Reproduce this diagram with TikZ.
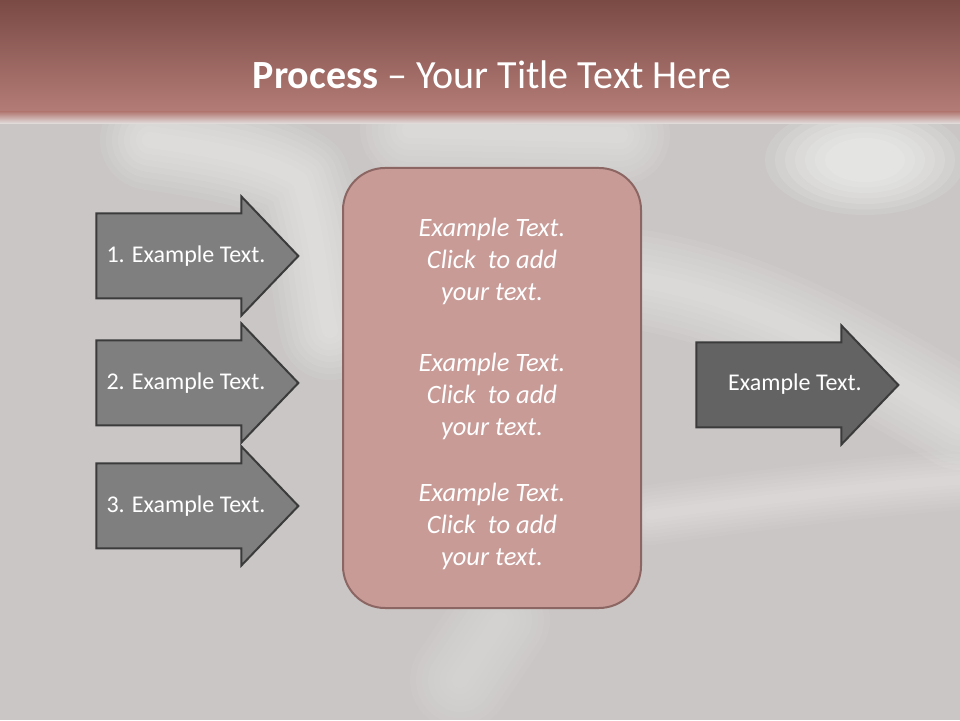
\documentclass[tikz,border=0pt]{standalone}
\usepackage{fontspec}
\setmainfont{Carlito}
\usepackage{tikz}
\usetikzlibrary{shapes.arrows}
\definecolor{pgBack}{HTML}{C9C6C5}
\definecolor{pgBandTop}{HTML}{7A4A45}
\definecolor{pgBandLow}{HTML}{B47C76}
\definecolor{pgRose}{HTML}{C89B97}
\definecolor{pgRoseDark}{HTML}{8B6662}
\definecolor{pgGray}{HTML}{7F7F7F}
\definecolor{pgGrayDark}{HTML}{636363}
\definecolor{pgEdge}{HTML}{3B3B3B}

\begin{document}
\begin{tikzpicture}[
  x=1pt,y=1pt,
  every node/.style={text=white},
  inarrow/.style={single arrow,draw=pgEdge,line width=2pt,fill=pgGray,
    minimum height=202pt,inner xsep=0pt,inner ysep=41.5pt,
    single arrow head extend=17pt,single arrow tip angle=92.5},
  outarrow/.style={inarrow,fill=pgGrayDark},
  arrowtext/.style={font=\fontsize{24}{29}\selectfont},
  boxtext/.style={font=\fontsize{26.5}{32}\selectfont\itshape,align=center},
  smoke/.style={draw=white,line cap=round,line join=round}
]
  \useasboundingbox (0,0) rectangle (960,720);
  \fill[pgBack] (0,0) rectangle (960,720);

  % soft smoke in the background
  \foreach \w in {100,88,76,64,52,40,28,16}{
    \draw[smoke,line width=\w pt,opacity=.07] (150,580) .. controls (220,570) and (270,560) .. (300,540)
      .. controls (320,480) and (320,430) .. (330,390);
    \draw[smoke,line width=\w pt,opacity=.06] (410,590) -- (620,585);
    \draw[smoke,line width=\w pt,opacity=.06] (641,440) .. controls (760,420) and (860,360) .. (960,300);
    \draw[smoke,line width=.6*\w pt,opacity=.05] (650,205) .. controls (760,220) and (880,235) .. (960,240);
    \draw[smoke,line width=\w pt,opacity=.04] (460,40) -- (500,100);
  }
  \foreach \s in {1,.9,.8,.7,.6,.5,.4}{
    \fill[white,opacity=.11] (865,560) ellipse ({100*\s} and {55*\s});
  }

  % title band
  \shade[top color=pgBandTop,bottom color=pgBandLow] (0,608) rectangle (960,720);
  \shade[top color=pgBandLow,bottom color=pgBack!50!white] (0,596) rectangle (960,608);
  \node[font=\fontsize{40}{48}\selectfont] (title) at (492,645)
    {\textbf{Process} -- Your Title Text Here};

  % centre box
  \draw[fill=pgRose,draw=pgRoseDark,line width=2pt,rounded corners=42pt]
    (343,112) rectangle (641,552);
  \node[boxtext] (item1) at (492,459) {Example Text.\\Click\ \ to add\\your text.};
  \node[boxtext] (item2) at (492,324) {Example Text.\\Click\ \ to add\\your text.};
  \node[boxtext] (item3) at (492,194) {Example Text.\\Click\ \ to add\\your text.};

  % input arrows
  \node[inarrow] (arr1) at (177,464) {};
  \node[inarrow] (arr2) at (177,337) {};
  \node[inarrow] (arr3) at (177,214) {};
  \node[arrowtext] (lbl1) at (186,464) {1. Example Text.};
  \node[arrowtext] (lbl2) at (186,337) {2. Example Text.};
  \node[arrowtext] (lbl3) at (186,214) {3. Example Text.};

  % output arrow
  \node[outarrow] (arrOut) at (777,335) {};
  \node[arrowtext] (lblOut) at (795,336) {Example Text.};
\end{tikzpicture}
\end{document}
